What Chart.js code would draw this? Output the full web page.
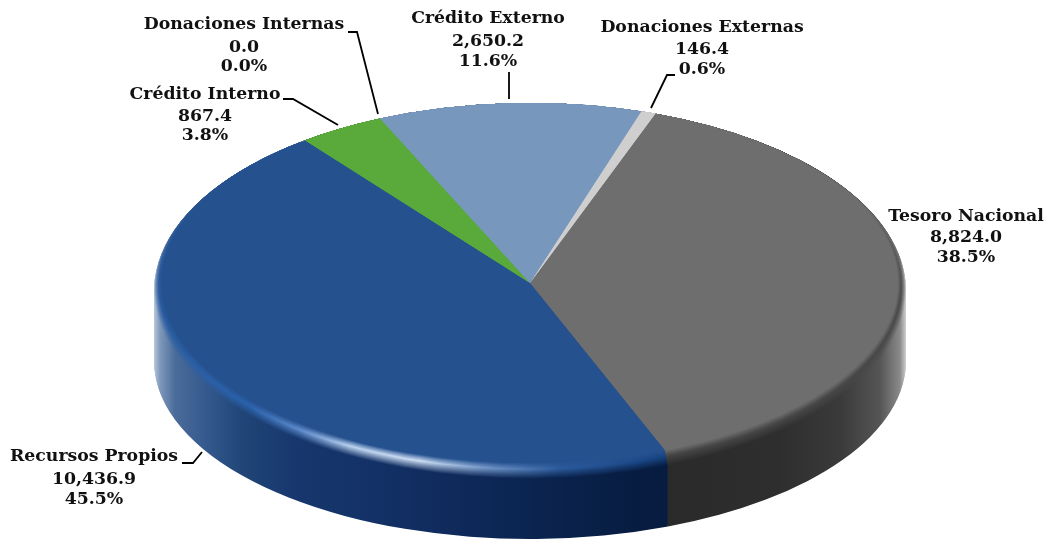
<!DOCTYPE html>
<html>
<head>
<meta charset="utf-8">
<script src="https://cdn.jsdelivr.net/npm/chart.js@4"></script>
<style>
    body { margin: 0; background: #fff; }
    canvas { display: block; }
</style>
</head>
<body>
<canvas id="pie" width="1048" height="539"></canvas>
<script>
const categories = ['Tesoro Nacional', 'Recursos Propios', 'Crédito Interno', 'Donaciones Internas', 'Crédito Externo', 'Donaciones Externas'];
const values = [8824.0, 10436.9, 867.4, 0.0, 2650.2, 146.4];
const percents = [38.5, 45.5, 3.8, 0.0, 11.6, 0.6];
const colors = ['#6e6e6e', '#26518f', '#5aaa3b', '#8fb9d8', '#7897bd', '#cfcfcf'];

// where the labels and leader lines go
const labelPlace = [
    { x: 966, y: [217, 238, 258] },
    { x: 94, y: [457, 480, 500] },
    { x: 205, y: [95, 117, 136] },
    { x: 244, y: [25, 48, 67] },
    { x: 488, y: [19, 42, 62] },
    { x: 702, y: [28, 50, 70] }
];
const leaders = [
    [[182, 463], [193, 463], [202, 452]],
    [[283, 99], [293, 99], [338, 125]],
    [[348, 32], [357, 32], [378, 114]],
    [[509, 72], [509, 99]],
    [[675, 75], [667, 75], [651, 108]]
];

// the ellipses of the tilted pie: flat face, edge of the bevel, foot of the wall
const flat = { cy: 283, rx: 368, ry: 180 };
const edge = { cy: 291, rx: 376, ry: 188 };
const foot = { cy: 361, rx: 376, ry: 178 };
const CX = 530;
const RIM_AT = 0.4;

// horizontal shading, [page x, colour]
const wallShade = {
    0: [[667, '#2a2a2a'], [780, '#2e2e2e'], [840, '#3a3a3a'], [880, '#555555'], [900, '#8a8a8a'], [906, '#cfcfcf']],
    1: [[154, '#b8c8dc'], [160, '#7f98bb'], [175, '#4a6c9b'], [215, '#2f5488'], [240, '#214677'], [300, '#16366d'], [400, '#122f63'], [530, '#0b2450'], [640, '#071c40'], [667, '#061c40']]
};
const rimShade = {
    0: [[667, '#444444'], [906, '#484848']],
    1: [[154, '#2a5c9f'], [250, '#2a63ad'], [300, '#5e8ccc'], [350, '#bcd3ef'], [420, '#cfe0f4'], [490, '#6f94c6'], [560, '#2b5b9c'], [667, '#164280']]
};

function hex(c) {
    return [1, 3, 5].map(i => parseInt(c.substr(i, 2), 16));
}

function mix(a, b, t) {
    const p = hex(a), q = hex(b);
    return 'rgb(' + p.map((v, i) => Math.round(v + (q[i] - v) * t)).join(',') + ')';
}

function toHex(rgb) {
    const n = rgb.match(/\d+/g).map(Number);
    return '#' + n.map(v => v.toString(16).padStart(2, '0')).join('');
}

function shadeAt(list, x) {
    if (x <= list[0][0]) return list[0][1];
    for (let i = 1; i < list.length; i++) {
        if (x <= list[i][0]) {
            const t = (x - list[i - 1][0]) / (list[i][0] - list[i - 1][0]);
            return toHex(mix(list[i - 1][1], list[i][1], t));
        }
    }
    return list[list.length - 1][1];
}

function layerFill(ctx, arc, index, e, t) {
    const base = colors[index];
    const dark = toHex(mix(base, '#000000', 0.5));
    const soft = toHex(mix(base, '#000000', 0.2));
    const wall = wallShade[index] || [[154, dark], [906, dark]];
    const rim = rimShade[index] || [[154, soft], [906, soft]];
    const xs = [...new Set(wall.concat(rim).map(s => s[0]))].sort((a, b) => a - b);
    // gradient runs in the arc's own space, so undo the ellipse scale for the page x
    const scale = arc.outerRadius / e.rx;
    const grad = ctx.createLinearGradient(arc.x + (154 - CX) * scale, 0, arc.x + (906 - CX) * scale, 0);
    xs.forEach(x => {
        const f = (x - 154) / 752;
        let col;
        if (t < RIM_AT) col = mix(base, shadeAt(rim, x), t / RIM_AT);
        else col = mix(shadeAt(rim, x), shadeAt(wall, x), (t - RIM_AT) / (1 - RIM_AT));
        grad.addColorStop(f, col);
    });
    return grad;
}

function applyEllipse(ctx, arc, e) {
    const sx = e.rx / arc.outerRadius, sy = e.ry / arc.outerRadius;
    ctx.translate(CX, e.cy);
    ctx.scale(sx, sy);
    ctx.translate(-arc.x, -arc.y);
}

function drawLayer(chart, ctx, e, t) {
    chart.getDatasetMeta(0).data.forEach((arc, i) => {
        const ghost = Object.create(arc);
        ghost.options = Object.assign({}, arc.options, { backgroundColor: layerFill(ctx, arc, i, e, t), borderWidth: 0 });
        ctx.save();
        applyEllipse(ctx, arc, e);
        ghost.draw(ctx);
        ctx.restore();
    });
}

function lerpEllipse(a, b, t) {
    return { cy: a.cy + (b.cy - a.cy) * t, rx: a.rx + (b.rx - a.rx) * t, ry: a.ry + (b.ry - a.ry) * t };
}

// the bevel does not show along the back of the pie: cover it with the face colours, fading out downwards
function coverBack(chart) {
    const tmp = document.createElement('canvas');
    tmp.width = chart.width;
    tmp.height = chart.height;
    const tctx = tmp.getContext('2d');
    const e = lerpEllipse(flat, edge, 0.9);
    drawLayer(chart, tctx, e, 0);
    const fade = tctx.createLinearGradient(0, 190, 0, 300);
    fade.addColorStop(0, 'rgba(0,0,0,1)');
    fade.addColorStop(1, 'rgba(0,0,0,0)');
    tctx.globalCompositeOperation = 'destination-in';
    tctx.fillStyle = fade;
    tctx.fillRect(0, 0, tmp.width, tmp.height);
    chart.ctx.drawImage(tmp, 0, 0);
}

const tiltPlugin = {
    id: 'tilt',
    beforeDatasetsDraw(chart) {
        const wallSteps = 70, bevelSteps = 30;
        for (let k = wallSteps; k >= 0; k--) {
            drawLayer(chart, chart.ctx, lerpEllipse(edge, foot, k / wallSteps), 1);
        }
        for (let k = bevelSteps; k > 0; k--) {
            const t = k / bevelSteps;
            drawLayer(chart, chart.ctx, lerpEllipse(flat, edge, t), t);
        }
        coverBack(chart);
        const arc = chart.getDatasetMeta(0).data[0];
        chart.ctx.save();
        applyEllipse(chart.ctx, arc, flat);
    },
    afterDatasetsDraw(chart) {
        const ctx = chart.ctx;
        ctx.restore();

        ctx.strokeStyle = '#000';
        ctx.lineWidth = 1.8;
        leaders.forEach(pts => {
            ctx.beginPath();
            pts.forEach((p, i) => i ? ctx.lineTo(p[0], p[1]) : ctx.moveTo(p[0], p[1]));
            ctx.stroke();
        });

        ctx.fillStyle = '#111';
        ctx.font = 'bold 17.3px "DejaVu Serif"';
        ctx.textAlign = 'center';
        ctx.textBaseline = 'middle';
        categories.forEach((name, i) => {
            const place = labelPlace[i];
            const amount = values[i].toLocaleString('en-US', { minimumFractionDigits: 1, maximumFractionDigits: 1 });
            ctx.fillText(name, place.x, place.y[0]);
            ctx.fillText(amount, place.x, place.y[1]);
            ctx.fillText(percents[i].toFixed(1) + '%', place.x, place.y[2]);
        });
    }
};

new Chart(document.getElementById('pie'), {
    type: 'pie',
    data: {
        labels: categories,
        datasets: [{
            data: values,
            backgroundColor: colors,
            borderWidth: 0
        }]
    },
    options: {
        responsive: false,
        animation: false,
        rotation: 19.9,
        plugins: {
            legend: { display: false },
            tooltip: { enabled: false }
        }
    },
    plugins: [tiltPlugin]
});
</script>
</body>
</html>
